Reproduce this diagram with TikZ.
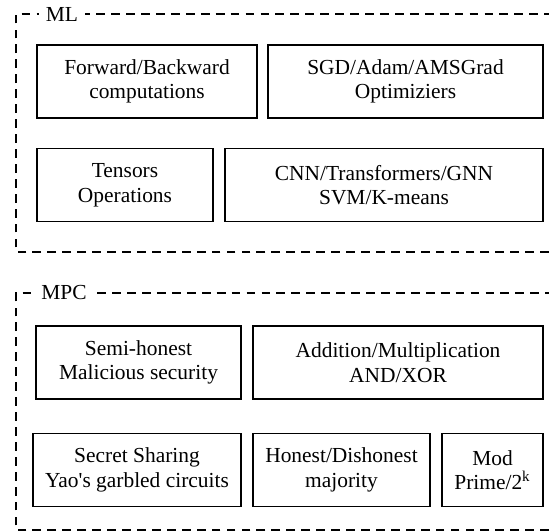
\documentclass[tikz,border=0pt]{standalone}
\usepackage{fontspec}
\setmainfont{Liberation Serif}
\usetikzlibrary{positioning}
\tikzset{
  font=\rmfamily\fontsize{12.2}{14}\selectfont,
  block/.style={rectangle, draw=black, line width=1.1pt, align=center, inner sep=2pt, minimum height=1.46cm},
  frame/.style={draw=black, line width=1.1pt, dash pattern=on 5pt off 3.5pt},
  framelabel/.style={fill=white, inner xsep=4pt, inner ysep=1pt},
}

\begin{document}
\begin{tikzpicture}[x=0.02cm, y=-0.02cm]
  \useasboundingbox (0,0) rectangle (555,531);

  % --- ML group (open on the right) ---
  \draw[frame] (549,252) -- (16,252) -- (16,14) -- (549,14);
  \node[framelabel] (mllabel) at (62,14) {ML};

  \node[block, minimum width=4.40cm] (fwd)  at (147,81.5)  {Forward/Backward\\ computations};
  \node[block, minimum width=5.50cm] (sgd)  at (405.5,81.5) {SGD/Adam/AMSGrad\\ Optimiziers};
  \node[block, minimum width=3.52cm] (tens) at (125,185)   {Tensors\\ Operations};
  \node[block, minimum width=6.36cm] (cnn)  at (384,185)   {CNN/Transformers/GNN\\ SVM/K-means};

  % --- MPC group (open on the right) ---
  \draw[frame] (549,530) -- (16,530) -- (16,293) -- (549,293);
  \node[framelabel] (mpclabel) at (64,293) {MPC};

  \node[block, minimum width=4.10cm] (semi)   at (138.5,362.5) {Semi-honest\\ Malicious security};
  \node[block, minimum width=5.80cm] (arith)  at (398,362.5)   {Addition/Multiplication\\ AND/XOR};
  \node[block, minimum width=4.16cm] (secret) at (137,470)     {Secret Sharing\\ Yao\textquotesingle s garbled circuits};
  \node[block, minimum width=3.54cm] (honest) at (341.5,470)   {Honest/Dishonest\\ majority};
  \node[block, minimum width=2.02cm] (mod)    at (492.5,470)   {Mod\\ Prime/2\textsuperscript{k}};
\end{tikzpicture}
\end{document}
